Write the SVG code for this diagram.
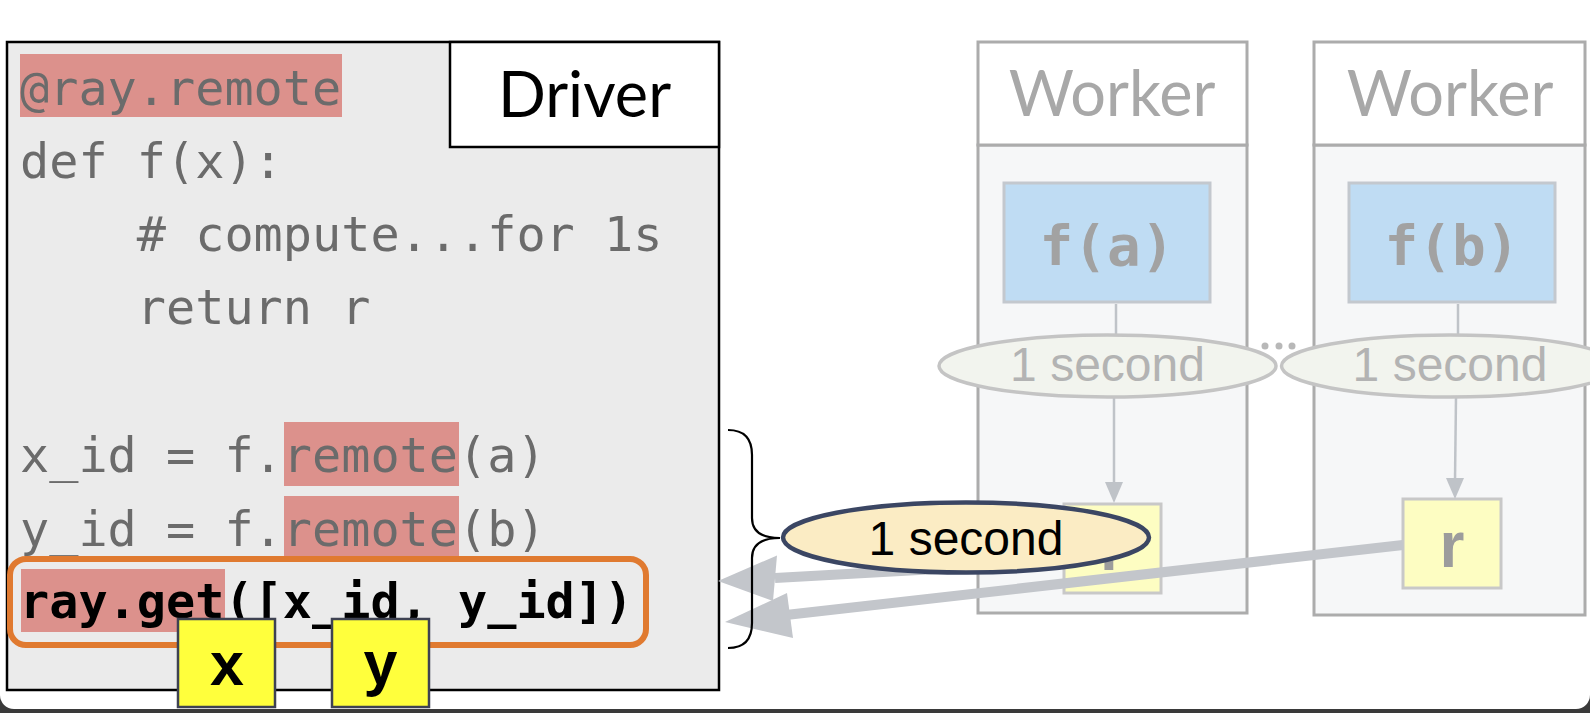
<svg xmlns="http://www.w3.org/2000/svg" width="1590" height="713" viewBox="0 0 1590 713">
<defs>
<style>
.code{font-family:"DejaVu Sans Mono","Liberation Mono",monospace;font-size:48.5px;fill:#6b6b6b}
.codeb{font-family:"DejaVu Sans Mono","Liberation Mono",monospace;font-size:48.5px;font-weight:bold;fill:#000}
.hl{fill:#dc918c}
.title{font-family:Lato,"Liberation Sans",sans-serif;font-size:63px;text-anchor:middle}
.wk{stroke:#acacac;stroke-width:3}
.fbox{fill:#bfdcf3;stroke:#c3c8ce;stroke-width:3}
.ftxt{font-family:"DejaVu Sans Mono",monospace;font-weight:bold;font-size:56px;fill:#a2a2a2;text-anchor:middle}
.sec{font-family:"Liberation Sans",Arial,sans-serif;font-size:48px;text-anchor:middle}
.rbox{fill:#fdfdc2;stroke:#c8c8c8;stroke-width:3}
.rtxt{font-family:"Liberation Sans",Arial,sans-serif;font-weight:bold;font-size:64px;fill:#9c9c9c;text-anchor:middle}
.ybox{fill:#ffff3c;stroke:#3e4252;stroke-width:2.5}
.ytxt{font-family:"Liberation Sans",Arial,sans-serif;font-weight:bold;font-size:61px;fill:#000;text-anchor:middle}
.thin{stroke:#bfc3c8;stroke-width:2.5;fill:none}
.smhead{fill:#bfc3c8}
.big{stroke:#c3c6cb;stroke-width:10;fill:none}
.bighead{fill:#c3c6cb}
</style>
</defs>
<rect x="0" y="0" width="1590" height="713" fill="#3a3a3a"/>
<rect x="0" y="-30" width="1590" height="739" rx="14" fill="#ffffff"/>

<g id="driver">
<rect x="7" y="42" width="712" height="648" fill="#ebebeb" stroke="#000" stroke-width="2.5"/>
<rect x="450" y="42" width="269" height="105" fill="#ffffff" stroke="#000" stroke-width="2.5"/>
<text class="title" x="584.5" y="117" fill="#000">Driver</text>
<rect class="hl" x="20" y="54" width="322" height="63"/>
<rect class="hl" x="284" y="422" width="175" height="64"/>
<rect class="hl" x="284" y="496" width="175" height="62"/>
<rect class="hl" x="21" y="569" width="204" height="63"/>
<text class="code" x="20" y="105">@ray.remote</text>
<text class="code" x="20" y="178">def f(x):</text>
<text class="code" x="136.8" y="251"># compute...for 1s</text>
<text class="code" x="136.8" y="324">return r</text>
<text class="code" x="20" y="472">x_id = f.remote(a)</text>
<text class="code" x="20" y="546">y_id = f.remote(b)</text>
<text class="codeb" x="20" y="618">ray.get([x_id, y_id])</text>
<rect x="10" y="559" width="636" height="86" rx="16" fill="none" stroke="#e07a30" stroke-width="6"/>
</g>

<g id="worker1">
<rect class="wk" x="978" y="145" width="269" height="468" fill="#f6f7f8"/>
<rect class="wk" x="978" y="42" width="269" height="103" fill="#ffffff"/>
<text class="title" x="1112" y="116" fill="#a8a8a8">Worker</text>
<rect class="fbox" x="1004" y="183" width="206" height="119"/>
<text class="ftxt" x="1107" y="265">f(a)</text>
<rect class="rbox" x="1064" y="504" width="97" height="89"/>
<text class="rtxt" x="1112.5" y="570">r</text>
</g>

<g id="worker2">
<rect class="wk" x="1314" y="145" width="271" height="470" fill="#f6f7f8"/>
<rect class="wk" x="1314" y="42" width="271" height="103" fill="#ffffff"/>
<text class="title" x="1450" y="116" fill="#a8a8a8">Worker</text>
<rect class="fbox" x="1349" y="183" width="206" height="119"/>
<text class="ftxt" x="1452" y="265">f(b)</text>
<rect class="rbox" x="1403" y="499" width="98" height="89"/>
<text class="rtxt" x="1452" y="567">r</text>
</g>

<g id="connectors">
<line class="thin" x1="1116" y1="304" x2="1116" y2="336" stroke="#b4b4b4"/>
<line class="thin" x1="1458" y1="304" x2="1458" y2="336" stroke="#b4b4b4"/>
<line class="thin" x1="1114" y1="397" x2="1114" y2="484"/>
<path class="smhead" d="M1105,482 L1123,482 L1114,503 Z"/>
<line class="thin" x1="1456" y1="397" x2="1455" y2="480"/>
<path class="smhead" d="M1446,478 L1464,478 L1455,499 Z"/>
<line class="big" x1="1080" y1="561" x2="775" y2="578"/>
<path class="bighead" d="M718,581 L777,555.5 L773,601 Z"/>
<line class="big" x1="1403" y1="545" x2="786" y2="615"/>
<path class="bighead" d="M725,622 L787,593 L793,638 Z"/>
</g>

<g id="ellipse-a">
<ellipse cx="1107.5" cy="366" rx="168.5" ry="31" fill="#f2f4ee" stroke="#c4c4c4" stroke-width="3.5"/>
<text class="sec" x="1107.5" y="381" fill="#b3b3b3">1 second</text>
</g>
<g id="ellipse-b">
<ellipse cx="1450" cy="366" rx="168.5" ry="31" fill="#f2f4ee" stroke="#c4c4c4" stroke-width="3.5"/>
<text class="sec" x="1450" y="381" fill="#b3b3b3">1 second</text>
</g>
<g id="dots" fill="#b8b8b8">
<circle cx="1265" cy="346" r="3.5"/>
<circle cx="1279" cy="346" r="3.5"/>
<circle cx="1292" cy="346" r="3.5"/>
</g>

<g id="total-time">
<ellipse cx="966" cy="537.5" rx="183" ry="35" fill="#fbecc4" stroke="#3b4663" stroke-width="4.5"/>
<text class="sec" x="966" y="555" fill="#000">1 second</text>
</g>

<g id="brace">
<path d="M728,430 Q752,430 752,455 L752,518 Q752,538 780,538 Q752,538 752,558 L752,623 Q752,648 728,648" fill="none" stroke="#000" stroke-width="2.2"/>
</g>

<g id="x-box">
<rect class="ybox" x="178" y="619" width="97" height="88"/>
<text class="ytxt" x="227" y="685">x</text>
</g>
<g id="y-box">
<rect class="ybox" x="332" y="619" width="97" height="88"/>
<text class="ytxt" x="380.5" y="684">y</text>
</g>
</svg>
